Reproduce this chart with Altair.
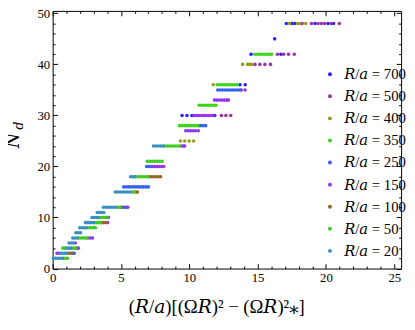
import altair as alt
import pandas as pd

# ---- data ----
series_names = ["700", "500", "400", "350", "250", "150", "100", "50", "20"]
series_colors = ["#2222ff", "#9a32a8", "#9a9a1e", "#3fd21a", "#3562ec", "#9533f2", "#9a6424", "#3ecc1e", "#3b8fc2"]

# each series: list of (N_d, [x values])
s700 = [(30, [9.47, 9.83, 10.19, 11.86]), (36, [13.71, 14.09]), (42, [14.52, 16.7]),
        (45, [16.25]), (48, [17.1, 17.52, 17.72, 19.2, 20.15, 20.55])]
s500 = [(30, [12.35, 12.68, 13.03]), (35, [13.8, 14.08]), (40, [14.8, 15.17, 15.53, 15.94]),
        (42, [16.45, 16.9, 17.26, 17.68]), (48, [18.25, 18.94, 19.42, 19.66, 19.9, 20.38, 20.98])]
s400 = [(25, [9.35, 9.66, 9.99, 10.31]), (36, [11.75]), (40, [13.9, 14.27, 14.4, 14.55]),
        (48, [17.33, 17.92, 18.08, 18.52])]
s350 = [(28, [9.28, 9.46, 9.64, 9.82, 10.0, 10.18, 10.36, 10.54, 10.72]),
        (32, [10.72, 10.9, 11.08, 11.26, 11.44, 11.62, 11.8, 11.95]),
        (36, [12.04, 12.22, 12.4, 12.58, 12.76, 12.94, 13.12, 13.3, 13.48]),
        (42, [14.8, 14.98, 15.16, 15.34, 15.52, 15.7, 15.88, 16.02])]
s250 = [(3, [1.48, 1.57]), (12, [5.12, 5.26, 5.4]),
        (16, [5.2, 5.38, 5.56, 5.74, 5.92, 6.1, 6.28, 6.46, 6.64, 6.82, 7.0]),
        (20, [6.88, 7.04, 7.2]), (28, [10.84, 11.02, 11.2]),
        (35, [12.08, 12.26, 12.44, 12.62, 12.8, 12.98, 13.16, 13.34, 13.52, 13.7])]
s150 = [(3, [0.32, 0.47]), (4, [1.76, 1.88]), (5, [1.65]), (6, [2.6, 2.76, 2.92]),
        (9, [4.02]), (10, [4.08]), (12, [5.5]),
        (20, [7.3, 7.47, 7.64, 7.81, 7.98, 8.13]), (24, [9.4, 9.56, 9.66]),
        (27, [9.74, 9.92, 10.1, 10.28, 10.46, 10.66]),
        (30, [10.34, 10.52, 10.7, 10.88, 11.06, 11.24, 11.42, 11.6, 11.74]),
        (33, [11.84, 12.02, 12.2, 12.38, 12.56, 12.74, 12.86])]
s100 = [(2, [0.8]), (3, [1.1, 1.25, 1.38]), (9, [3.56, 3.72, 3.88]), (12, [5.0]),
        (15, [6.08, 6.2]), (18, [7.05, 7.22, 7.39, 7.56, 7.73, 7.9])]
s50 = [(2, [0.95, 1.08]), (4, [0.75, 0.9, 1.4, 1.55, 1.68]), (6, [1.9, 2.06, 2.22, 2.38, 2.52]),
       (8, [2.52, 2.68, 2.84, 3.0, 3.13]), (9, [3.06, 3.22, 3.38, 3.5]),
       (10, [3.42, 3.58, 3.74, 3.9, 3.98]), (12, [4.75, 4.9]), (15, [5.82, 5.98]),
       (18, [6.08, 6.26, 6.44, 6.62, 6.8, 6.95]),
       (21, [6.92, 7.1, 7.28, 7.46, 7.64, 7.82, 8.0]),
       (24, [8.2, 8.38, 8.56, 8.74, 8.92, 9.1, 9.28])]
s20 = [(2, [0.05, 0.2, 0.35, 0.5, 0.65]), (3, [0.55, 0.7, 0.85, 1.0]), (4, [1.02, 1.17, 1.32]),
       (5, [1.2, 1.35, 1.5]), (6, [1.47, 1.62, 1.78]), (7, [1.7, 1.87, 2.04]),
       (8, [1.98, 2.14, 2.3, 2.45]), (9, [2.4, 2.55, 2.7, 2.85, 3.0]),
       (10, [2.88, 3.04, 3.2, 3.35]), (11, [3.26, 3.42, 3.58, 3.74]),
       (12, [3.72, 3.9, 4.08, 4.26, 4.44, 4.62]),
       (15, [4.58, 4.76, 4.94, 5.12, 5.3, 5.48, 5.66]), (18, [5.7, 5.85, 6.0]),
       (24, [7.38, 7.56, 7.74, 7.92, 8.08])]

all_series = [s700, s500, s400, s350, s250, s150, s100, s50, s20]

x_ticks = list(range(0, 26))
y_ticks = list(range(0, 51, 2))

legend_labels = ["𝑅/𝑎 = " + s for s in series_names]
rows = []
for lab, ser in zip(legend_labels, all_series):
    for n, xs in ser:
        for xv in xs:
            rows.append({"series": lab, "N": n, "x": xv})
df = pd.DataFrame(rows)

FONT = "Liberation Serif, DejaVu Serif, serif"

xs = alt.Scale(domain=[0, 25.5], nice=False, zero=False)
ys = alt.Scale(domain=[0, 50.48], nice=False, zero=False)

x_tick_expr = {"expr": "datum.value % 5 === 0 ? -5 : -2.5"}
y_tick_expr = {"expr": "datum.value % 10 === 0 ? -5 : -2.5"}

common = dict(domain=False, grid=False, tickColor="black", tickWidth=1,
              labelFont=FONT, labelFontSize=13, labelColor="black",
              labelFlush=False, labelOverlap=False)

ax_b = alt.Axis(orient="bottom", values=x_ticks, tickSize=x_tick_expr,
                labelExpr="datum.value % 5 === 0 ? datum.label : ''", labelPadding=8,
                title="(𝑅/𝑎)[(Ω𝑅)² − (Ω𝑅)²⁎]", titleFont=FONT, titleFontSize=19,
                titleFontWeight="normal", titleColor="black", titlePadding=11,
                titleAlign="left", titleAnchor="start", titleX=77, **common)
ax_t = alt.Axis(orient="top", values=x_ticks, tickSize=x_tick_expr, labels=False,
                title=None, **common)
ax_l = alt.Axis(orient="left", values=y_ticks, tickSize=y_tick_expr,
                labelExpr="datum.value % 10 === 0 ? datum.label : ''", labelPadding=8,
                title=None, **common)
ax_r = alt.Axis(orient="right", values=y_ticks, tickSize=y_tick_expr, labels=False,
                title=None, **common)

frame = alt.Chart(df).mark_point(opacity=0).encode(
    x=alt.X("x:Q", scale=xs, axis=ax_t),
    y=alt.Y("N:Q", scale=ys, axis=ax_r),
)

points = alt.Chart(df).mark_circle(size=13, opacity=1).encode(
    x=alt.X("x:Q", scale=xs, axis=ax_b),
    y=alt.Y("N:Q", scale=ys, axis=ax_l),
    color=alt.Color("series:N",
                    scale=alt.Scale(domain=legend_labels, range=series_colors),
                    legend=alt.Legend(orient="none", legendX=275, legendY=57, title=None,
                                      labelFont=FONT, labelFontSize=15, labelColor="black",
                                      symbolType="circle", symbolSize=16, symbolStrokeWidth=0,
                                      labelOffset=7, rowPadding=6.5, padding=0)),
)

ytitle_N = alt.Chart(pd.DataFrame({"t": ["𝑁"]})).mark_text(
    angle=270, font=FONT, fontSize=18, align="center", baseline="middle", color="black"
).encode(text="t:N", x=alt.value(-39), y=alt.value(132))

ytitle_d = alt.Chart(pd.DataFrame({"t": ["𝑑"]})).mark_text(
    angle=270, font=FONT, fontSize=13, align="center", baseline="middle", color="black"
).encode(text="t:N", x=alt.value(-34.5), y=alt.value(117))

chart = alt.layer(frame, points, ytitle_N, ytitle_d).resolve_scale(
    x="independent", y="independent"
).properties(
    width=355, height=262.5,
    padding={"left": 45.5, "top": 0, "right": 6, "bottom": 52},
    autosize=alt.AutoSizeParams(type="none"),
).configure_view(stroke="black", strokeWidth=1)

chart.save("out.html", embed_options={"renderer": "svg", "actions": False})
